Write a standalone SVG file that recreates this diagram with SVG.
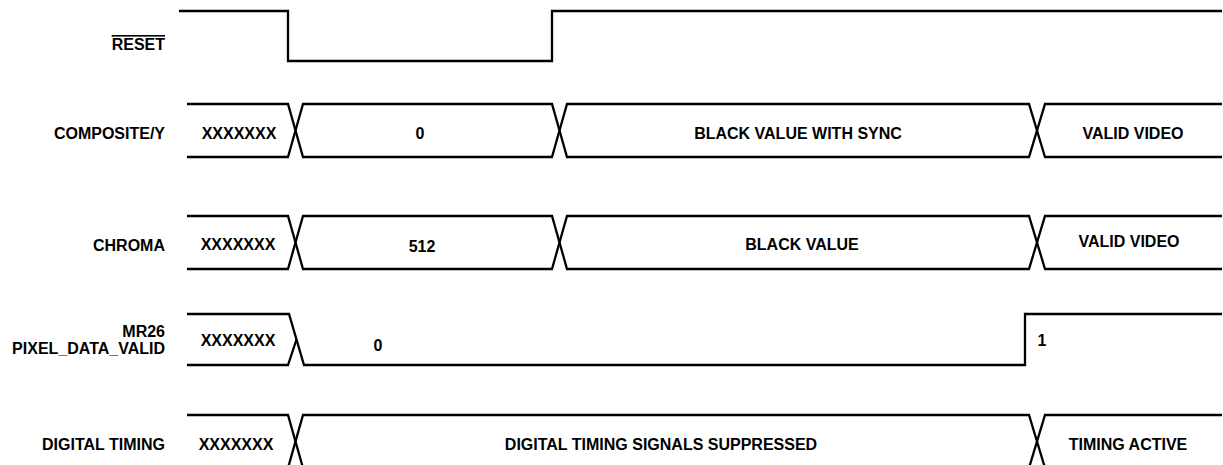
<svg xmlns="http://www.w3.org/2000/svg" width="1223" height="465" viewBox="0 0 1223 465">
<style>
  text { font-family: "Liberation Sans", Arial, Helvetica, sans-serif; font-weight: bold; font-size: 16px; fill: #000; }
  .lbl { text-anchor: end; }
  .val { text-anchor: middle; }
  .wave { fill: none; stroke: #000; stroke-width: 2.3; stroke-linejoin: miter; stroke-linecap: butt; }
</style>
<rect x="0" y="0" width="1223" height="465" fill="#fff"/>

<g id="sig-reset">
  <text class="lbl" x="165" y="50" text-decoration="overline">RESET</text>
  <path class="wave" d="M179,11 H288 V61 H552 V11 H1222"/>
</g>

<g id="sig-composite">
  <text class="lbl" x="165" y="139">COMPOSITE/Y</text>
  <path class="wave" d="M187,104 H288 L303,157 H552 L567,104 H1029 L1045,157 H1222"/>
  <path class="wave" d="M187,157 H288 L303,104 H552 L567,157 H1029 L1045,104 H1222"/>
  <text class="val" x="239" y="139">XXXXXXX</text>
  <text class="val" x="420" y="139">0</text>
  <text class="val" x="798" y="139">BLACK VALUE WITH SYNC</text>
  <text class="val" x="1133" y="139">VALID VIDEO</text>
</g>

<g id="sig-chroma">
  <text class="lbl" x="165" y="251">CHROMA</text>
  <path class="wave" d="M187,216 H288 L303,269 H552 L567,216 H1029 L1045,269 H1222"/>
  <path class="wave" d="M187,269 H288 L303,216 H552 L567,269 H1029 L1045,216 H1222"/>
  <text class="val" x="238" y="249.5">XXXXXXX</text>
  <text class="val" x="422" y="252">512</text>
  <text class="val" x="802" y="249.5">BLACK VALUE</text>
  <text class="val" x="1129" y="247">VALID VIDEO</text>
</g>

<g id="sig-mr26">
  <text class="lbl" x="165" y="337">MR26</text>
  <text class="lbl" x="165" y="353.5">PIXEL_DATA_VALID</text>
  <path class="wave" d="M187,314 H289 L304,365 H1025 V314 H1222"/>
  <path class="wave" d="M187,365 H288 L296.5,339.5"/>
  <text class="val" x="238" y="346">XXXXXXX</text>
  <text class="val" x="378" y="351">0</text>
  <text class="val" x="1042" y="346">1</text>
</g>

<g id="sig-digital-timing">
  <text class="lbl" x="165" y="450">DIGITAL TIMING</text>
  <path class="wave" d="M187,415 H288 L303,468 H1029 L1045,415 H1222"/>
  <path class="wave" d="M187,468 H288 L303,415 H1029 L1045,468 H1222"/>
  <text class="val" x="236" y="450">XXXXXXX</text>
  <text class="val" x="661" y="450">DIGITAL TIMING SIGNALS SUPPRESSED</text>
  <text class="val" x="1128" y="450">TIMING ACTIVE</text>
</g>

<g id="connectors"></g>
</svg>
